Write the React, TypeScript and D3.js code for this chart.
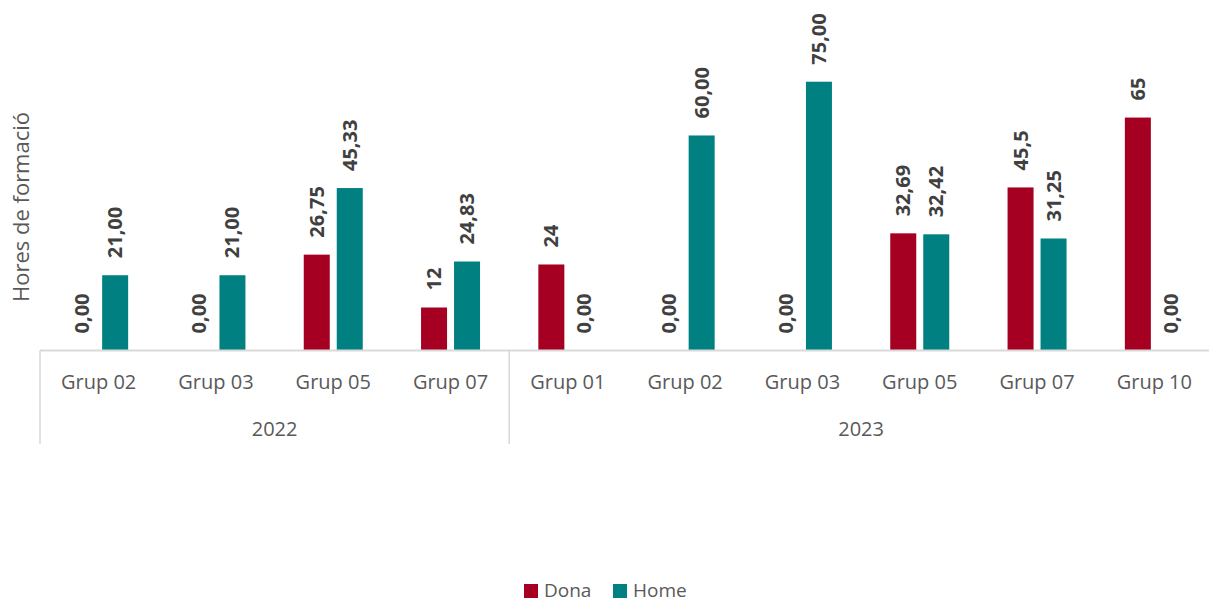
import React from "react";
import * as d3 from "d3";

const years = ["2022", "2023"];
const groups2022 = ["Grup 02", "Grup 03", "Grup 05", "Grup 07"];
const groups2023 = ["Grup 01", "Grup 02", "Grup 03", "Grup 05", "Grup 07", "Grup 10"];
const donaValues = [0, 0, 26.75, 12, 24, 0, 0, 32.69, 45.5, 65];
const homeValues = [21, 21, 45.33, 24.83, 0, 60, 75, 32.42, 31.25, 0];
const donaLabels = ["0,00", "0,00", "26,75", "12", "24", "0,00", "0,00", "32,69", "45,5", "65"];
const homeLabels = ["21,00", "21,00", "45,33", "24,83", "0,00", "60,00", "75,00", "32,42", "31,25", "0,00"];
const seriesNames = ["Dona", "Home"];
const colors = ["#A50021", "#008080"];

const W = 1209;
const H = 603;
const FONT = "'Open Sans', sans-serif";

export default function App() {
  const cats = [
    ...groups2022.map((g) => ({ year: years[0], g })),
    ...groups2023.map((g) => ({ year: years[1], g })),
  ];
  const keys = cats.map((c, i) => `${c.year}-${c.g}-${i}`);
  const x = d3.scaleBand<string>().domain(keys).range([40, 1213]).paddingInner(0).paddingOuter(0);
  const y = d3.scaleLinear().domain([0, 80]).range([350.5, 63.8]);
  const sub = d3.scaleBand<string>().domain(seriesNames).range([-29.5, 29.5]).paddingInner(0.212).paddingOuter(0);
  const base = y(0);
  const series = [
    { name: seriesNames[0], values: donaValues, labels: donaLabels, color: colors[0] },
    { name: seriesNames[1], values: homeValues, labels: homeLabels, color: colors[1] },
  ];
  const yearStarts = [0, groups2022.length, cats.length];

  return (
    <svg width={W} height={H} style={{ position: "absolute", left: 0, top: 0, background: "#fff" }}>
      {/* y axis title */}
      <text
        transform={`translate(29,207) rotate(-90)`}
        textAnchor="middle"
        fontFamily={FONT}
        fontSize={22}
        fill="#595959"
      >
        Hores de formació
      </text>

      {/* bars and labels */}
      {series.map((s) =>
        s.values.map((v, i) => {
          const cx = (x(keys[i]) as number) + x.bandwidth() / 2 + (sub(s.name) as number) + sub.bandwidth() / 2;
          const bx = cx - sub.bandwidth() / 2;
          const top = y(v);
          return (
            <g key={`${s.name}-${i}`}>
              {v > 0 && <rect x={bx} y={top} width={sub.bandwidth()} height={base - top} fill={s.color} />}
              <text
                transform={`translate(${cx},${top - 17}) rotate(-90)`}
                y={7}
                fontFamily={FONT}
                fontSize={20}
                fontWeight="bold"
                fill="#404040"
              >
                {s.labels[i]}
              </text>
            </g>
          );
        })
      )}

      {/* axis line */}
      <line x1={40} x2={1213} y1={base} y2={base} stroke="#D9D9D9" strokeWidth={2} />
      {yearStarts.map((k, j) => {
        const xx = k < cats.length ? (x(keys[k]) as number) : 1213;
        return <line key={`div-${j}`} x1={xx} x2={xx} y1={base} y2={444} stroke="#D9D9D9" strokeWidth={1.5} />;
      })}

      {/* category labels */}
      {cats.map((c, i) => (
        <text
          key={`cat-${i}`}
          x={(x(keys[i]) as number) + x.bandwidth() / 2}
          y={389}
          textAnchor="middle"
          fontFamily={FONT}
          fontSize={20}
          fill="#595959"
        >
          {c.g}
        </text>
      ))}

      {/* year labels */}
      {years.map((yr, j) => {
        const x0 = x(keys[yearStarts[j]]) as number;
        const x1 = yearStarts[j + 1] < cats.length ? (x(keys[yearStarts[j + 1]]) as number) : 1213;
        return (
          <text
            key={`yr-${j}`}
            x={(x0 + x1) / 2}
            y={436}
            textAnchor="middle"
            fontFamily={FONT}
            fontSize={20}
            fill="#595959"
          >
            {yr}
          </text>
        );
      })}

      {/* legend */}
      <g>
        <rect x={524} y={584} width={14} height={14} fill={colors[0]} />
        <text x={544} y={597} fontFamily={FONT} fontSize={19} fill="#595959">
          {seriesNames[0]}
        </text>
        <rect x={613} y={584} width={14} height={14} fill={colors[1]} />
        <text x={633} y={597} fontFamily={FONT} fontSize={19} fill="#595959">
          {seriesNames[1]}
        </text>
      </g>
    </svg>
  );
}
